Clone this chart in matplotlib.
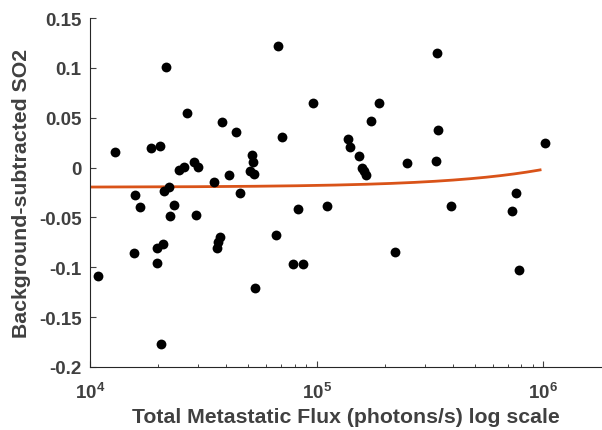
import numpy as np
import matplotlib
matplotlib.use("Agg")
import matplotlib.pyplot as plt
from matplotlib.ticker import LogLocator, NullFormatter, FixedLocator, FixedFormatter

plt.rcParams['font.family'] = ['Liberation Sans', 'DejaVu Sans']
plt.rcParams['mathtext.fontset'] = 'custom'
plt.rcParams['mathtext.rm'] = 'Liberation Sans:bold'
plt.rcParams['mathtext.bf'] = 'Liberation Sans:bold'
plt.rcParams['mathtext.it'] = 'Liberation Sans:bold'

# data
flux = [10800, 12900, 15600, 15800, 16700, 18600, 19700, 19700, 20400, 20500,
        21000, 21200, 22400, 21700, 22600, 23600, 24800, 26000, 26900, 28700,
        30100, 29400, 35300, 38200, 41000, 44300, 45900, 36300, 36800, 37500,
        51800, 52600, 51000, 53100, 53300, 66000, 67600, 70600, 79000, 82900,
        87200, 96200, 111300, 137100, 139900, 153200, 159300, 162000, 164900,
        174000, 188800, 222200, 250900, 337000, 340400, 344900, 391300,
        729800, 757800, 783500, 1017000]
so2 = [-0.109, 0.016, -0.086, -0.028, -0.040, 0.020, -0.081, -0.096, 0.022, -0.177,
       -0.077, -0.023, -0.019, 0.101, -0.049, -0.038, -0.002, 0.001, 0.055, 0.006,
       0.001, -0.048, -0.014, 0.046, -0.007, 0.036, -0.025, -0.081, -0.075, -0.070,
       0.013, 0.006, -0.003, -0.006, -0.121, -0.068, 0.122, 0.031, -0.097, -0.042,
       -0.097, 0.065, -0.039, 0.029, 0.021, 0.012, 0.000, -0.003, -0.007,
       0.047, 0.065, -0.085, 0.005, 0.007, 0.115, 0.038, -0.039,
       -0.044, -0.025, -0.103, 0.025]

fit_intercept = -0.0197
fit_slope = 1.79e-8
fit_x_range = [1e4, 9.7e5]

yticks = [-0.2, -0.15, -0.1, -0.05, 0, 0.05, 0.1, 0.15]
ytick_labels = ['-0.2', '-0.15', '-0.1', '-0.05', '0', '0.05', '0.1', '0.15']
xticks = [1e4, 1e5, 1e6]
xtick_labels = [r'$10^{4}$', r'$10^{5}$', r'$10^{6}$']

fig = plt.figure(figsize=(6.02, 4.31), dpi=100)
ax = fig.add_axes([90/602, (431-368)/431, (602-90)/602, (368-19)/431])

ax.scatter(flux, so2, s=50, c='black', marker='o', linewidths=0, zorder=3)

fx = np.linspace(fit_x_range[0], fit_x_range[1], 200)
ax.plot(fx, fit_intercept + fit_slope * fx, color='#D95319', lw=2.0, zorder=2)

ax.set_xscale('log')
ax.set_xlim(1e4, 1.82e6)
ax.set_ylim(-0.2, 0.15)

ax.xaxis.set_major_locator(FixedLocator(xticks))
ax.xaxis.set_major_formatter(FixedFormatter(xtick_labels))
ax.xaxis.set_minor_locator(LogLocator(base=10, subs=np.arange(2, 10)))
ax.xaxis.set_minor_formatter(NullFormatter())
ax.yaxis.set_major_locator(FixedLocator(yticks))
ax.yaxis.set_major_formatter(FixedFormatter(ytick_labels))

for s in ['top', 'right']:
    ax.spines[s].set_visible(False)
for s in ['left', 'bottom']:
    ax.spines[s].set_color('#262626')
    ax.spines[s].set_linewidth(0.8)

ax.tick_params(axis='both', which='major', direction='in', length=4, width=0.8,
               colors='#404040', labelsize=13.5)
ax.tick_params(axis='x', which='minor', direction='in', length=2.5, width=0.6,
               colors='#262626')
ax.tick_params(axis='y', which='major', pad=6)
ax.tick_params(axis='x', which='major', pad=11)
for lbl in ax.get_yticklabels():
    lbl.set_fontweight('bold')

ax.set_xlabel('Total Metastatic Flux (photons/s) log scale', fontsize=15.3,
              fontweight='bold', color='#404040', labelpad=3)
ax.set_ylabel('Background-subtracted SO2', fontsize=15.3, fontweight='bold',
              color='#404040', labelpad=6)

fig.savefig('out.png', dpi=100)
